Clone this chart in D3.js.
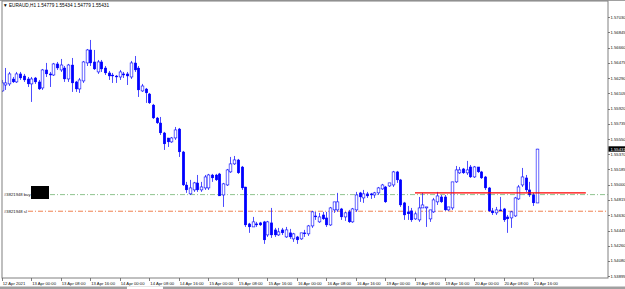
<!DOCTYPE html>
<html>
<head>
<meta charset="utf-8">
<script src="https://cdn.jsdelivr.net/npm/d3@7"></script>
<style>
  body { margin: 0; background: #fff; }
  svg { display: block; }
  text { font-family: "Liberation Sans", Arial, sans-serif; }
</style>
</head>
<body>
<div id="chart"></div>
<script>
// EURAUD H1 bars, 12 Apr 16:00 .. 20 Apr 17:00
var open = [
  1.56135, 1.56207, 1.56220, 1.56280, 1.56244, 1.56341, 1.56316, 1.56280, 1.56220, 1.56292,
  1.56244, 1.56171, 1.56389, 1.56341, 1.56328, 1.56462, 1.56389, 1.56413, 1.56280, 1.56449,
  1.56244, 1.56159, 1.56256, 1.56474, 1.56631, 1.56486, 1.56365, 1.56486, 1.56413, 1.56353,
  1.56328, 1.56316, 1.56304, 1.56341, 1.56341, 1.56304, 1.56474, 1.56413, 1.56135, 1.56159,
  1.56099, 1.55965, 1.55808, 1.55748, 1.55627, 1.55566, 1.55518, 1.55566, 1.55675, 1.55397,
  1.54997, 1.54889, 1.54937, 1.55022, 1.54937, 1.54961, 1.54961, 1.55118, 1.55118, 1.55131,
  1.54876, 1.54997, 1.55155, 1.55252, 1.55300, 1.55215, 1.54973, 1.54526, 1.54489, 1.54526,
  1.54538, 1.54550, 1.54392, 1.54538, 1.54453, 1.54392, 1.54453, 1.54368, 1.54417, 1.54344,
  1.54368, 1.54344, 1.54417, 1.54405, 1.54501, 1.54622, 1.54550, 1.54634, 1.54598, 1.54513,
  1.54695, 1.54695, 1.54707, 1.54610, 1.54671, 1.54550, 1.54695, 1.54901, 1.54840, 1.54889,
  1.54889, 1.54876, 1.54901, 1.54949, 1.54973, 1.54985, 1.54997, 1.55155, 1.55058, 1.54780,
  1.54671, 1.54683, 1.54586, 1.54574, 1.54719, 1.54719, 1.54586, 1.54671, 1.54792, 1.54852,
  1.54852, 1.54695, 1.54719, 1.55034, 1.55143, 1.55191, 1.55143, 1.55215, 1.55094, 1.55215,
  1.55155, 1.55094, 1.54961, 1.54683, 1.54659, 1.54695, 1.54707, 1.54610, 1.54598, 1.54622,
  1.54828, 1.54997, 1.55082, 1.54937, 1.54876, 1.54779
];
var high = [
  1.56268, 1.56413, 1.56365, 1.56304, 1.56365, 1.56365, 1.56341, 1.56304, 1.56304, 1.56304,
  1.56268, 1.56401, 1.56474, 1.56365, 1.56474, 1.56486, 1.56522, 1.56437, 1.56462, 1.56534,
  1.56256, 1.56292, 1.56498, 1.56643, 1.56752, 1.56631, 1.56510, 1.56510, 1.56437, 1.56377,
  1.56353, 1.56328, 1.56389, 1.56365, 1.56365, 1.56498, 1.56558, 1.56437, 1.56220, 1.56171,
  1.56111, 1.55978, 1.55820, 1.55820, 1.55639, 1.55566, 1.55578, 1.55699, 1.55687, 1.55409,
  1.55034, 1.55058, 1.55034, 1.55118, 1.55034, 1.55118, 1.55131, 1.55131, 1.55131, 1.55143,
  1.55022, 1.55191, 1.55336, 1.55348, 1.55312, 1.55227, 1.54973, 1.54538, 1.54610, 1.54550,
  1.54550, 1.54562, 1.54562, 1.54719, 1.54477, 1.54477, 1.54477, 1.54489, 1.54465, 1.54417,
  1.54380, 1.54417, 1.54453, 1.54513, 1.54683, 1.54671, 1.54659, 1.54671, 1.54671, 1.54731,
  1.54792, 1.54901, 1.54719, 1.54671, 1.54695, 1.54719, 1.54913, 1.54913, 1.54937, 1.54913,
  1.54901, 1.54913, 1.54973, 1.55010, 1.54985, 1.55022, 1.55167, 1.55167, 1.55070, 1.54792,
  1.54743, 1.54719, 1.54671, 1.54852, 1.54901, 1.54731, 1.54695, 1.54840, 1.54913, 1.54876,
  1.54876, 1.54731, 1.55034, 1.55227, 1.55215, 1.55203, 1.55288, 1.55239, 1.55227, 1.55215,
  1.55167, 1.55106, 1.54973, 1.54719, 1.54731, 1.54852, 1.54719, 1.54634, 1.54683, 1.54852,
  1.54997, 1.55203, 1.55118, 1.55034, 1.54901, 1.55434
];
var low = [
  1.56123, 1.56147, 1.56195, 1.56232, 1.56232, 1.56268, 1.56244, 1.56183, 1.56002, 1.56220,
  1.56147, 1.56147, 1.56304, 1.56183, 1.56316, 1.56389, 1.56365, 1.56244, 1.56244, 1.56123,
  1.56123, 1.56111, 1.56232, 1.56437, 1.56437, 1.56389, 1.56341, 1.56365, 1.56328, 1.56268,
  1.56232, 1.56232, 1.56268, 1.56292, 1.56207, 1.56280, 1.56365, 1.56062, 1.56123, 1.55990,
  1.55978, 1.55796, 1.55736, 1.55602, 1.55421, 1.55457, 1.55506, 1.55542, 1.55336, 1.54985,
  1.54901, 1.54876, 1.54913, 1.54913, 1.54913, 1.54937, 1.54937, 1.55034, 1.55046, 1.54864,
  1.54731, 1.54985, 1.55143, 1.55239, 1.55131, 1.54937, 1.54489, 1.54417, 1.54489, 1.54489,
  1.54501, 1.54284, 1.54368, 1.54356, 1.54368, 1.54380, 1.54392, 1.54356, 1.54344, 1.54308,
  1.54284, 1.54332, 1.54368, 1.54380, 1.54477, 1.54574, 1.54538, 1.54574, 1.54489, 1.54501,
  1.54659, 1.54671, 1.54574, 1.54562, 1.54538, 1.54538, 1.54671, 1.54792, 1.54780, 1.54840,
  1.54828, 1.54840, 1.54876, 1.54937, 1.54780, 1.54973, 1.54973, 1.55022, 1.54731, 1.54574,
  1.54574, 1.54550, 1.54574, 1.54550, 1.54719, 1.54489, 1.54550, 1.54659, 1.54755, 1.54780,
  1.54683, 1.54683, 1.54695, 1.55022, 1.55131, 1.55131, 1.55118, 1.55082, 1.55082, 1.55143,
  1.55070, 1.54937, 1.54671, 1.54634, 1.54634, 1.54683, 1.54550, 1.54417, 1.54477, 1.54610,
  1.54816, 1.54973, 1.54913, 1.54852, 1.54743, 1.54779
];
var close = [
  1.56232, 1.56232, 1.56341, 1.56244, 1.56341, 1.56292, 1.56268, 1.56220, 1.56280, 1.56244,
  1.56159, 1.56389, 1.56341, 1.56328, 1.56462, 1.56413, 1.56449, 1.56280, 1.56449, 1.56232,
  1.56159, 1.56268, 1.56486, 1.56631, 1.56474, 1.56401, 1.56486, 1.56401, 1.56353, 1.56316,
  1.56316, 1.56304, 1.56365, 1.56328, 1.56316, 1.56474, 1.56389, 1.56147, 1.56195, 1.56111,
  1.55990, 1.55808, 1.55748, 1.55627, 1.55494, 1.55518, 1.55566, 1.55663, 1.55397, 1.54997,
  1.54937, 1.54961, 1.55022, 1.54937, 1.54973, 1.55094, 1.55118, 1.55082, 1.55058, 1.54864,
  1.55010, 1.55179, 1.55252, 1.55300, 1.55143, 1.54961, 1.54513, 1.54489, 1.54550, 1.54513,
  1.54513, 1.54332, 1.54550, 1.54392, 1.54392, 1.54429, 1.54417, 1.54453, 1.54368, 1.54405,
  1.54332, 1.54417, 1.54405, 1.54501, 1.54671, 1.54610, 1.54610, 1.54586, 1.54513, 1.54719,
  1.54792, 1.54792, 1.54610, 1.54659, 1.54550, 1.54707, 1.54876, 1.54852, 1.54889, 1.54864,
  1.54876, 1.54901, 1.54961, 1.54997, 1.54792, 1.55022, 1.55155, 1.55058, 1.54755, 1.54634,
  1.54647, 1.54574, 1.54647, 1.54719, 1.54755, 1.54731, 1.54695, 1.54816, 1.54864, 1.54792,
  1.54695, 1.54731, 1.55034, 1.55179, 1.55179, 1.55143, 1.55179, 1.55094, 1.55215, 1.55155,
  1.55082, 1.54961, 1.54683, 1.54659, 1.54695, 1.54683, 1.54574, 1.54586, 1.54671, 1.54840,
  1.54973, 1.55094, 1.54937, 1.54876, 1.54780, 1.55431
];

var priceTicks = [1.57030, 1.56845, 1.56660, 1.56475, 1.56290, 1.56105, 1.55920, 1.55735, 1.55550,
                  1.55370, 1.55185, 1.55000, 1.54815, 1.54630, 1.54445, 1.54260, 1.54080, 1.53895];
var timeTickBars = [0, 8, 16, 24, 32, 40, 48, 56, 64, 72, 80, 88, 96, 104, 112, 120, 128, 136, 144];
var timeLabels = ["12 Apr 2021", "13 Apr 00:00", "13 Apr 08:00", "13 Apr 16:00", "14 Apr 00:00",
                  "14 Apr 08:00", "14 Apr 16:00", "15 Apr 00:00", "15 Apr 08:00", "15 Apr 16:00",
                  "16 Apr 00:00", "16 Apr 08:00", "16 Apr 16:00", "19 Apr 00:00", "19 Apr 08:00",
                  "19 Apr 16:00", "20 Apr 00:00", "20 Apr 08:00", "20 Apr 16:00"];

// order levels
var buyLevel = 1.54880, slLevel = 1.54679, orderLabels = ["#3821948 buy", "#3821948 sl"];
var redLevel = 1.54901, redFrom = 112, redTo = 158.3;
var title = "EURAUD,H1  1.54779 1.55434 1.54779 1.55431";

var W = 625, H = 289;
var plot = { left: 2, right: 608, top: 1, bottom: 278 };
var n = close.length;

var svg = d3.select("#chart").append("svg")
    .attr("width", W)
    .attr("height", H);

svg.append("rect").attr("width", W).attr("height", H).attr("fill", "#fff");

var x = d3.scaleLinear().domain([0, n - 1]).range([1.7, 1.7 + 3.69 * (n - 1)]);
var y = d3.scaleLinear().domain([1.53895, 1.57030]).range([276, 17]);

svg.append("clipPath").attr("id", "plotclip")
  .append("rect")
    .attr("x", plot.left).attr("y", plot.top)
    .attr("width", plot.right - plot.left).attr("height", plot.bottom - plot.top);

var g = svg.append("g").attr("clip-path", "url(#plotclip)");

// order lines (dash-dot)
g.append("line")
    .attr("x1", 50).attr("x2", plot.right)
    .attr("y1", y(buyLevel)).attr("y2", y(buyLevel))
    .attr("stroke", "#8fc48f").attr("stroke-width", 1)
    .attr("stroke-dasharray", "5,2,1,2");
g.append("line")
    .attr("x1", 28).attr("x2", plot.right)
    .attr("y1", y(slLevel)).attr("y2", y(slLevel))
    .attr("stroke", "#f08050").attr("stroke-width", 1)
    .attr("stroke-dasharray", "5,2,1,2");

// candles
var bars = d3.range(n).map(function(i) {
  return { i: i, o: open[i], h: high[i], l: low[i], c: close[i] };
});
var bw = 2.7;

g.selectAll("line.wick").data(bars).enter().append("line")
    .attr("class", "wick")
    .attr("x1", d => Math.round(x(d.i)) + 0.5).attr("x2", d => Math.round(x(d.i)) + 0.5)
    .attr("y1", d => y(d.h)).attr("y2", d => y(d.l))
    .attr("stroke", "#2020ff").attr("stroke-width", 0.8);

g.selectAll("rect.body").data(bars).enter().append("rect")
    .attr("class", "body")
    .attr("x", d => Math.round(x(d.i)) + 0.5 - bw / 2)
    .attr("width", bw)
    .attr("y", d => y(Math.max(d.o, d.c)))
    .attr("height", d => Math.max(0.8, Math.abs(y(d.o) - y(d.c))))
    .attr("fill", d => d.c >= d.o ? "#fff" : "#0000ff")
    .attr("stroke", "#0000ff")
    .attr("stroke-width", d => d.c >= d.o ? 0.6 : 0.3);

// red level
g.append("line")
    .attr("x1", x(redFrom)).attr("x2", x(redTo))
    .attr("y1", y(redLevel)).attr("y2", y(redLevel))
    .attr("stroke", "#ff0000").attr("stroke-width", 1.1);

// order labels
svg.append("text").attr("x", 4).attr("y", y(buyLevel) + 1.5)
    .attr("font-size", 4.2).attr("fill", "#111").text(orderLabels[0]);
svg.append("rect").attr("x", 31).attr("y", 186).attr("width", 18).attr("height", 13).attr("fill", "#000");
svg.append("text").attr("x", 4).attr("y", y(slLevel) + 1.5)
    .attr("font-size", 4.2).attr("fill", "#111").text(orderLabels[1]);

// frame
svg.append("line").attr("x1", 0).attr("x2", W).attr("y1", 0.5).attr("y2", 0.5).attr("stroke", "#a0a0a0");
svg.append("rect")
    .attr("x", plot.left).attr("y", plot.top)
    .attr("width", plot.right - plot.left).attr("height", plot.bottom - plot.top)
    .attr("fill", "none").attr("stroke", "#808080").attr("stroke-width", 1);

// price axis
var ya = svg.append("g");
ya.selectAll("line").data(priceTicks).enter().append("line")
    .attr("x1", plot.right).attr("x2", plot.right + 2)
    .attr("y1", d => Math.round(y(d)) + 0.5).attr("y2", d => Math.round(y(d)) + 0.5)
    .attr("stroke", "#606060").attr("stroke-width", 0.8);
ya.selectAll("text").data(priceTicks).enter().append("text")
    .attr("x", plot.right + 2.5).attr("y", d => y(d) + 1.5)
    .attr("font-size", 4.2).attr("fill", "#111")
    .text(d => d.toFixed(5));

// current price marker
var last = close[n - 1];
svg.append("rect").attr("x", plot.right + 0.5).attr("y", y(last) - 2.8)
    .attr("width", W - plot.right).attr("height", 5.4).attr("fill", "#000");
svg.append("text").attr("x", plot.right + 2.5).attr("y", y(last) + 1.5)
    .attr("font-size", 4.2).attr("fill", "#fff").text(last.toFixed(5));

// time axis
var xa = svg.append("g");
xa.selectAll("line").data(timeTickBars).enter().append("line")
    .attr("x1", d => Math.round(x(d)) + 0.5).attr("x2", d => Math.round(x(d)) + 0.5)
    .attr("y1", plot.bottom).attr("y2", plot.bottom + 3)
    .attr("stroke", "#606060").attr("stroke-width", 0.8);
xa.selectAll("text").data(timeTickBars).enter().append("text")
    .attr("x", d => x(d) + 1).attr("y", 284.5)
    .attr("font-size", 4.2).attr("fill", "#111")
    .text((d, i) => timeLabels[i]);

// bottom tab strip
svg.append("rect").attr("x", 0).attr("y", 286.5).attr("width", W).attr("height", 2.5).attr("fill", "#a0a0a0");
svg.append("rect").attr("x", 127).attr("y", 286.5).attr("width", 36).attr("height", 2.5).attr("fill", "#fff");

// title
svg.append("text").attr("x", 3).attr("y", 7.3)
    .attr("font-size", 4.7).attr("fill", "#000")
    .text("\u25BC " + title);
</script>
</body>
</html>
